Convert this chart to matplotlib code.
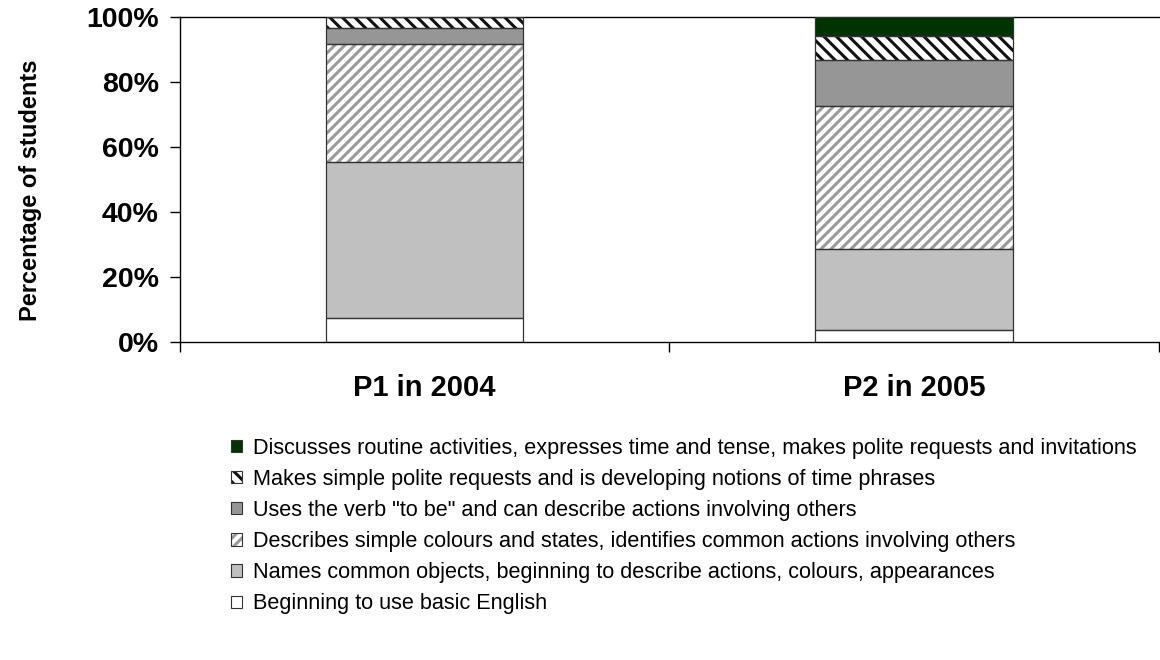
import matplotlib
matplotlib.use("Agg")
import matplotlib.pyplot as plt
import matplotlib.hatch as mhatch
from matplotlib.patches import Patch
from matplotlib.legend_handler import HandlerTuple
import numpy as np
import warnings

warnings.filterwarnings('ignore')
plt.rcParams['font.family'] = ['Liberation Sans', 'DejaVu Sans']


# custom hatch spacings: 'p' -> NE lines, 'q' -> NW lines, one line per character
class CountNE(mhatch.NorthEastHatch):
    def __init__(self, hatch, density):
        self.num_lines = int(hatch.count('p'))
        self.num_vertices = (self.num_lines + 1) * 2 if self.num_lines else 0


class CountNW(mhatch.SouthEastHatch):
    def __init__(self, hatch, density):
        self.num_lines = int(hatch.count('q'))
        self.num_vertices = (self.num_lines + 1) * 2 if self.num_lines else 0


mhatch._hatch_types.append(CountNE)
mhatch._hatch_types.append(CountNW)

categories = ['P1 in 2004', 'P2 in 2005']
labels = [
    'Beginning to use basic English',
    'Names common objects, beginning to describe actions, colours, appearances',
    'Describes simple colours and states, identifies common actions involving others',
    'Uses the verb "to be" and can describe actions involving others',
    'Makes simple polite requests and is developing notions of time phrases',
    'Discusses routine activities, expresses time and tense, makes polite requests and invitations',
]
beginning = [7.5, 3.7]
names_objects = [47.9, 24.9]
describes_colours = [36.4, 44.1]
verb_to_be = [4.9, 14.2]
polite_requests = [3.3, 7.4]
routine_activities = [0.0, 5.7]
series = [beginning, names_objects, describes_colours, verb_to_be, polite_requests, routine_activities]

# style: (facecolor, hatch, hatchcolor)
styles = [
    ('white', None, None),
    ('#C0C0C0', None, None),
    ('white', 'p' * 20, '#9a9a9a'),
    ('#969696', None, None),
    ('white', 'q' * 16, '#111111'),
    ('#003300', None, None),
]

plt.rcParams['hatch.linewidth'] = 2.2

fig = plt.figure(figsize=(11.6, 6.6), dpi=100)
ax = fig.add_axes([0.155, 0.482, 0.844, 0.4915])

x = np.arange(len(categories))
width = 0.404
edge = '#333333'
bottom = np.zeros(len(categories))
for vals, (fc, hatch, hc) in zip(series, styles):
    vals = np.array(vals)
    if hatch:
        ax.bar(x, vals, width, bottom=bottom, facecolor=fc, edgecolor=hc,
               hatch=hatch, linewidth=0, zorder=2)
    else:
        ax.bar(x, vals, width, bottom=bottom, facecolor=fc, linewidth=0, zorder=2)
    ax.bar(x, vals, width, bottom=bottom, facecolor='none', edgecolor=edge,
           linewidth=0.9, zorder=3)
    bottom += vals

ax.set_xlim(-0.5, 1.5)
ax.set_ylim(0, 100)
ax.set_yticks([0, 20, 40, 60, 80, 100])
ax.set_yticklabels(['0%', '20%', '40%', '60%', '80%', '100%'], fontsize=20.5, fontweight='bold')
ax.set_xticks([-0.5, 0.5, 1.5])
ax.set_xticklabels([])
ax.set_xticks(x, minor=True)
ax.set_xticklabels(categories, minor=True, fontsize=21, fontweight='bold')
ax.tick_params(axis='x', which='minor', length=0, pad=23)
ax.tick_params(axis='x', which='major', length=7, width=1, direction='out')
ax.tick_params(axis='y', length=7, width=1, direction='out', pad=8)
ax.spines['right'].set_visible(False)
for s in ['left', 'bottom', 'top']:
    ax.spines[s].set_linewidth(1.0)
    ax.spines[s].set_color('#000000')

fig.text(0.026, 0.711, 'Percentage of students', rotation=90, va='center', ha='center',
         fontsize=17, fontweight='bold')

handles = []
for lab, (fc, hatch, hc) in zip(labels, styles):
    border = Patch(facecolor='none', edgecolor=edge, linewidth=0.8)
    if hatch:
        fill = Patch(facecolor=fc, edgecolor=hc, hatch=hatch, linewidth=0)
    else:
        fill = Patch(facecolor=fc, linewidth=0)
    handles.append(((fill, border), lab))
handles = handles[::-1]
leg = fig.legend([h for h, _ in handles], [l for _, l in handles],
                 handler_map={tuple: HandlerTuple(ndivide=1, pad=0)},
                 loc='upper left', bbox_to_anchor=(0.199, 0.337),
                 frameon=False, fontsize=15.6, handlelength=0.5, handleheight=0.5,
                 handletextpad=0.5, labelspacing=0.47, borderaxespad=0, borderpad=0)

fig.savefig('out.png', dpi=100)
